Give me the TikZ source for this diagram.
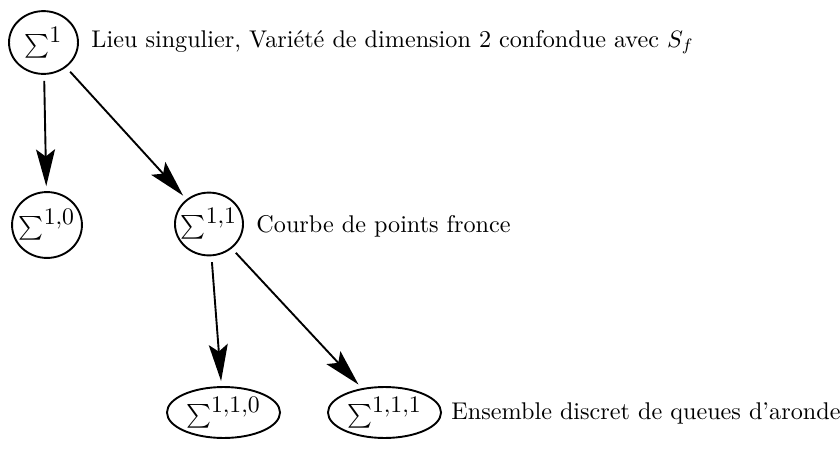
\documentclass[tikz,border=0pt]{standalone}
\usetikzlibrary{shapes.geometric,arrows.meta}
\begin{document}
\begin{tikzpicture}[x=0.4219pt,y=-0.4219pt,
  stnode/.style={draw,ellipse,line width=0.8pt,inner sep=-4pt,font=\Large},
  lbl/.style={anchor=west,inner sep=0pt,font=\fontsize{10.2}{12}\selectfont},
  edge/.style={line width=0.8pt,-{Stealth[length=15.5pt,width=8pt,inset=3pt]},shorten <=2.5pt,shorten >=2.1pt}]
\useasboundingbox (0,0) rectangle (840,448);
\node[stnode,minimum width=29.1pt,minimum height=26.5pt] (s1) at (43.5,42.5) {$\sum^{1}$};
\node[stnode,minimum width=29.5pt,minimum height=27.8pt] (s10) at (47,225) {$\sum^{1,0}$};
\node[stnode,minimum width=28.7pt,minimum height=26.5pt] (s11) at (209,224) {$\sum^{1,1}$};
\node[stnode,minimum width=47.7pt,minimum height=21.5pt] (s110) at (223.5,412.5) {$\sum^{1,1,0}$};
\node[stnode,minimum width=47.7pt,minimum height=21.5pt] (s111) at (384.5,412.5) {$\sum^{1,1,1}$};
\node[lbl] (l1) at (91,42) {Lieu singulier, Variété de dimension 2 confondue avec $S_f$};
\node[lbl] (l11) at (256,226) {Courbe de points fronce};
\node[lbl] (l111) at (451,413) {Ensemble discret de queues d'aronde};
\draw[edge] (s1) -- (s10);
\draw[edge] (s1) -- (s11);
\draw[edge] (s11) -- (s110);
\draw[edge] (s11) -- (s111);
\end{tikzpicture}
\end{document}
